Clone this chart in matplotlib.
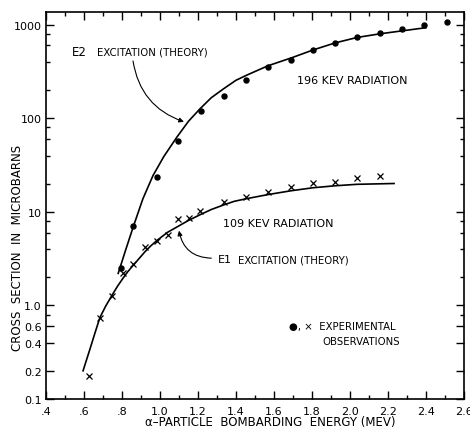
import matplotlib
matplotlib.use("Agg")
import matplotlib.pyplot as plt
from matplotlib.ticker import FixedLocator, FixedFormatter, NullFormatter

# ---- data ----
e2_exp_x = [0.795, 0.858, 0.984, 1.095, 1.216, 1.337, 1.453, 1.568, 1.689, 1.805,
            1.921, 2.037, 2.158, 2.274, 2.389, 2.51]
e2_exp_y = [2.5, 7.0, 23.5, 57.5, 120, 174, 257, 355, 421, 537,
            639, 741, 813, 901, 993, 1070]

e1_exp_x = [0.626, 0.684, 0.747, 0.805, 0.858, 0.921, 0.984, 1.042, 1.095, 1.153,
            1.21, 1.337, 1.453, 1.568, 1.689, 1.805, 1.921, 2.037, 2.158]
e1_exp_y = [0.175, 0.73, 1.25, 2.2, 2.74, 4.26, 4.9, 5.6, 8.3, 8.6,
            10.3, 12.6, 14.5, 16.4, 18.6, 20.5, 21.0, 23.2, 24.4]

e2_theory_x = [0.78, 0.82, 0.86, 0.91, 0.963, 1.02, 1.089, 1.15, 1.21, 1.27,
               1.332, 1.40, 1.458, 1.568, 1.695, 1.805, 1.921, 2.037, 2.158, 2.274, 2.40]
e2_theory_y = [2.2, 3.96, 7.0, 13.8, 24.4, 39, 63, 93, 126, 166,
               205, 255, 290, 364, 445, 537, 639, 731, 800, 860, 930]

e1_theory_x = [0.595, 0.632, 0.658, 0.684, 0.715, 0.747, 0.776, 0.805, 0.83, 0.858,
               0.921, 0.95, 0.984, 1.04, 1.095, 1.15, 1.21, 1.27, 1.337, 1.39,
               1.453, 1.568, 1.689, 1.805, 1.921, 2.037, 2.232]
e1_theory_y = [0.2, 0.345, 0.51, 0.745, 0.99, 1.28, 1.6, 1.95, 2.29, 2.67,
               3.75, 4.3, 4.95, 6.05, 7.0, 8.1, 9.3, 10.6, 11.9, 12.95,
               13.8, 15.3, 16.8, 18.1, 19.0, 19.7, 20.1]

x_ticks = [0.4, 0.6, 0.8, 1.0, 1.2, 1.4, 1.6, 1.8, 2.0, 2.2, 2.4, 2.6]
x_tick_labels = [".4", ".6", ".8", "1.0", "1.2", "1.4", "1.6", "1.8", "2.0", "2.2", "2.4", "2.6"]
y_ticks = [0.1, 0.2, 0.4, 0.6, 1, 10, 100, 1000]
y_tick_labels = ["0.1", "0.2", "0.4", "0.6", "1.0", "10", "100", "1000"]

# ---- figure ----
fig = plt.figure(figsize=(4.7, 4.31), dpi=100)
ax = fig.add_axes([46/470, 1-400/431, (464-46)/470, (400-13)/431])
ax.set_yscale("log")
ax.set_xlim(0.4, 2.6)
ax.set_ylim(0.1, 1368)

ax.plot(e2_theory_x, e2_theory_y, color="black", lw=1.2, solid_joinstyle="round")
ax.plot(e1_theory_x, e1_theory_y, color="black", lw=1.2, solid_joinstyle="round")
ax.plot(e2_exp_x, e2_exp_y, "o", color="black", ms=3.6, mec="black")
ax.plot(e1_exp_x, e1_exp_y, "x", color="black", ms=4, mew=0.9)

# ticks
ax.xaxis.set_major_locator(FixedLocator(x_ticks))
ax.xaxis.set_major_formatter(FixedFormatter(x_tick_labels))
ax.xaxis.set_minor_locator(FixedLocator([0.5 + 0.2*i for i in range(11)]))
ax.yaxis.set_major_locator(FixedLocator(y_ticks))
ax.yaxis.set_major_formatter(FixedFormatter(y_tick_labels))
minor_y = []
for d in [0.1, 1, 10, 100, 1000]:
    for m in [2, 4, 6, 8]:
        v = d*m
        if v not in (0.2, 0.4, 0.6) and v < 1368:
            minor_y.append(v)
ax.yaxis.set_minor_locator(FixedLocator(minor_y))
ax.yaxis.set_minor_formatter(NullFormatter())

ax.tick_params(which="both", direction="in", top=True, right=True, width=1.0, color="black")
ax.tick_params(which="major", length=6)
ax.tick_params(which="minor", length=3)
ax.tick_params(axis="x", labelsize=8, pad=5)
ax.tick_params(axis="y", labelsize=8, pad=3)
for s in ax.spines.values():
    s.set_linewidth(1.2)

fs = 8
# E2 annotation
ax.text(0.537, 512, "E2", fontsize=8.5, va="center", ha="left")
ax.text(0.668, 512, "EXCITATION (THEORY)", fontsize=7.3, va="center", ha="left")
ax.annotate("", xy=(1.126, 91.8), xytext=(0.858, 410),
            arrowprops=dict(arrowstyle="-|>", color="black", lw=0.8,
                            mutation_scale=7, connectionstyle="arc3,rad=0.3",
                            shrinkA=0, shrinkB=0))
ax.text(1.721, 257, "196 KEV RADIATION", fontsize=fs, va="center", ha="left")
ax.text(1.332, 7.68, "109 KEV RADIATION", fontsize=fs, va="center", ha="left")
# E1 annotation
ax.text(1.305, 3.1, "E1", fontsize=8, va="center", ha="left")
ax.text(1.41, 3.1, "EXCITATION (THEORY)", fontsize=7.3, va="center", ha="left")
ax.annotate("", xy=(1.10, 6.3), xytext=(1.27, 3.2),
            arrowprops=dict(arrowstyle="-|>", color="black", lw=0.8,
                            mutation_scale=7, connectionstyle="arc3,rad=-0.4",
                            shrinkA=0, shrinkB=0))
ax.text(1.679, 0.597, "\u25CF, \u00D7  EXPERIMENTAL", fontsize=7.3, va="center", ha="left")
ax.text(1.853, 0.413, "OBSERVATIONS", fontsize=7.3, va="center", ha="left")

fig.text(270/470, 1-423/431, "\u03B1\u2013PARTICLE  BOMBARDING  ENERGY (MEV)",
         fontsize=8.5, ha="center", va="center")
fig.text(18/470, 1-248/431, "CROSS  SECTION  IN  MICROBARNS", fontsize=8.5,
         rotation=90, ha="center", va="center")

fig.savefig("out.png", dpi=100)
